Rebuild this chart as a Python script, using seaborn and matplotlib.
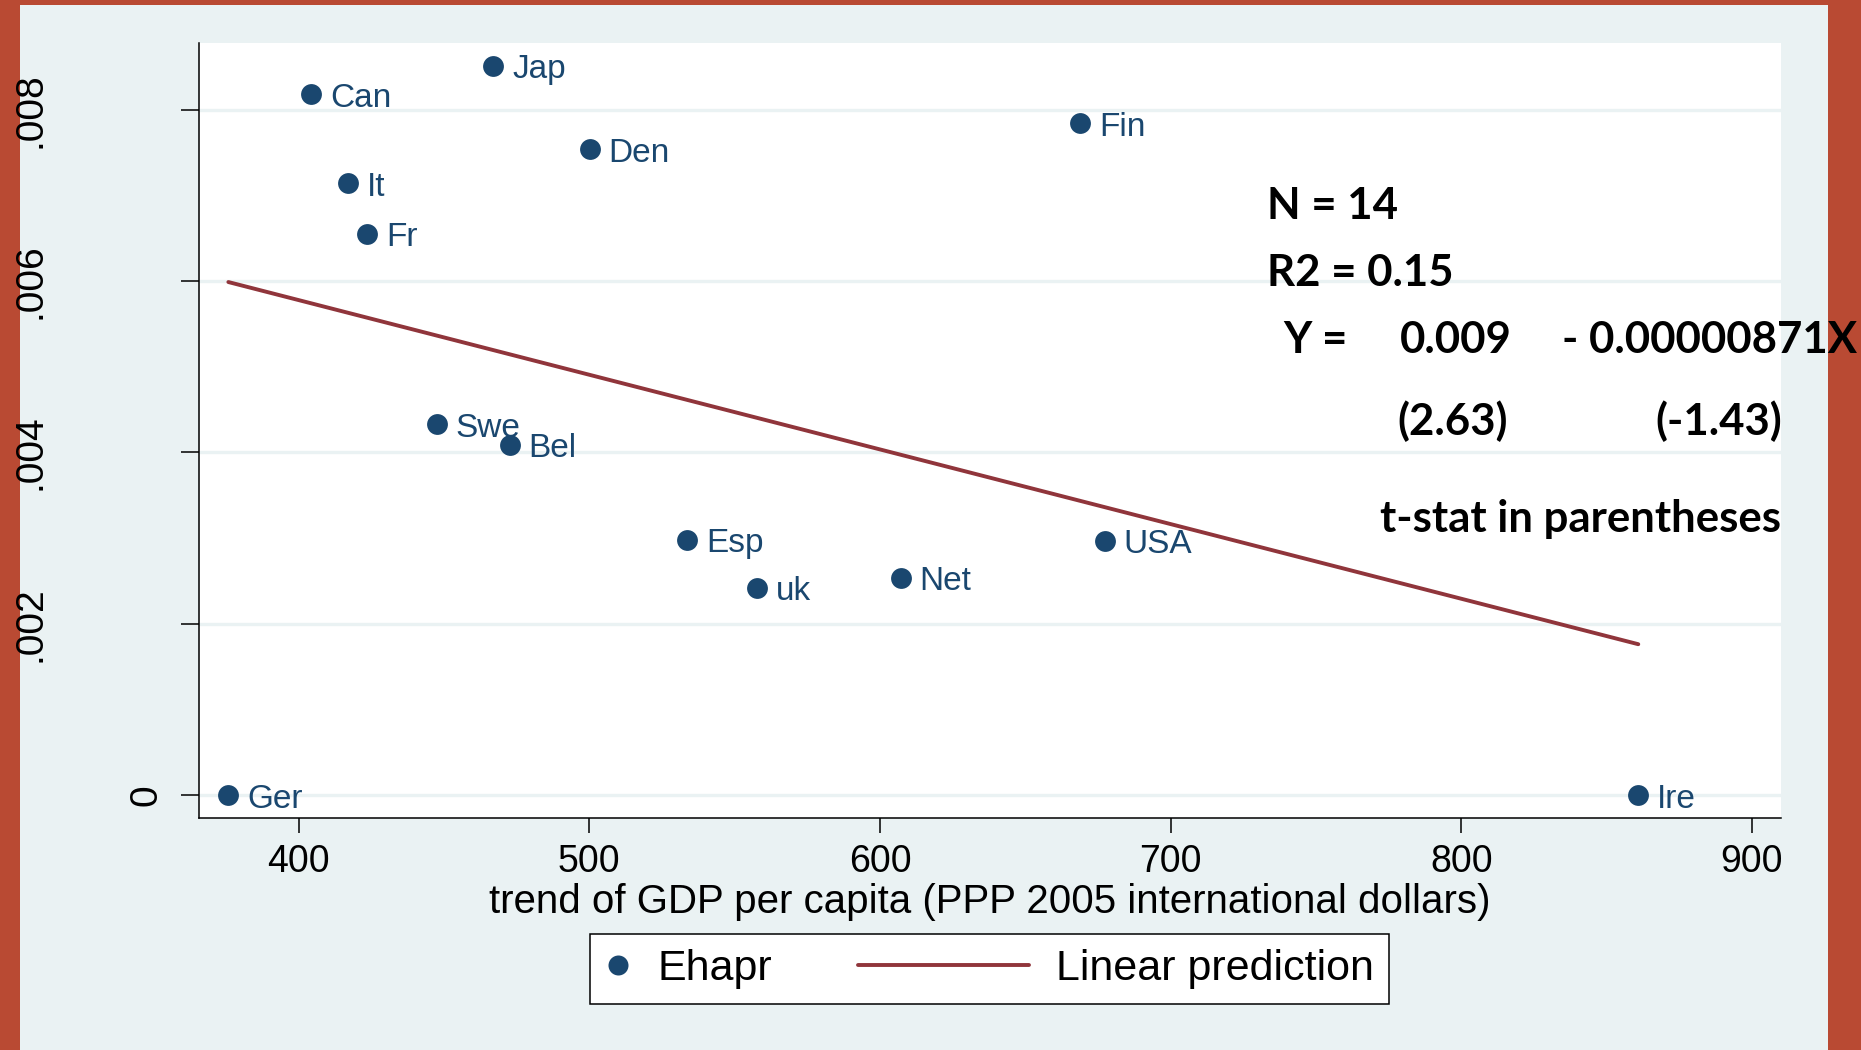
import numpy as np
import pandas as pd
import matplotlib
matplotlib.use("Agg")
import matplotlib.pyplot as plt
import matplotlib.transforms as mtransforms
from matplotlib.patches import Rectangle
from matplotlib.lines import Line2D
from matplotlib.legend_handler import HandlerLine2D
import seaborn as sns

# ---------------- data ----------------
countries = ["Ger", "Can", "It", "Fr", "Swe", "Jap", "Bel", "Den", "Esp", "uk", "Net", "Fin", "USA", "Ire"]
gdp_trend = [375.8, 404.4, 417.0, 423.6, 447.5, 467.0, 472.7, 500.2, 533.7, 557.6, 607.2, 668.9, 677.4, 860.9]
ehapr = [0.0, 0.00818, 0.00714, 0.00655, 0.00433, 0.00851, 0.00409, 0.00754,
         0.00298, 0.00242, 0.00254, 0.00784, 0.00297, 0.0]

x_ticks = [400, 500, 600, 700, 800, 900]
y_ticks = [0, 0.002, 0.004, 0.006, 0.008]
y_tick_labels = ["0", ".002", ".004", ".006", ".008"]

x_label = "trend of GDP per capita (PPP 2005 international dollars)"
legend_labels = ["Ehapr", "Linear prediction"]

annot_texts = ["N = 14", "R2 = 0.15", "Y =", "0.009", "- 0.00000871X",
               "(2.63)", "(-1.43)", "t-stat in parentheses"]

# ---------------- style ----------------
W, H = 1861, 1050
RED = "#b94a33"
LIGHT = "#eaf2f3"
NAVY = "#1a476f"
MAROON = "#90353b"

sns.set_theme(style="white")
plt.rcParams["font.family"] = ["Liberation Sans", "DejaVu Sans"]

df = pd.DataFrame({"country": countries, "gdp": gdp_trend, "ehapr": ehapr})

fig = plt.figure(figsize=(W / 100, H / 100), dpi=100, facecolor=RED)
fig.patches.append(Rectangle((20 / W, 0), (1828 - 20) / W, 1 - 5 / H,
                             transform=fig.transFigure, facecolor=LIGHT,
                             edgecolor="none", zorder=-10))

ax = fig.add_axes([199 / W, 1 - 818 / H, (1781 - 199) / W, (818 - 43) / H])
ax.set_facecolor("white")

sns.regplot(data=df, x="gdp", y="ehapr", ax=ax, scatter=False, ci=None,
            truncate=True, color=MAROON, line_kws=dict(lw=2.8, zorder=2))
sns.scatterplot(data=df, x="gdp", y="ehapr", ax=ax, s=225, color=NAVY,
                edgecolor=NAVY, linewidth=0, zorder=3, legend=False)

for name, xv, yv in zip(countries, gdp_trend, ehapr):
    ax.annotate(name, (xv, yv), xytext=(13.5, -9.0), textcoords="offset points",
                ha="left", va="baseline", fontsize=24, color=NAVY, zorder=4)

ax.set_xlim(365.7, 910.0)
ax.set_ylim(-0.000265, 0.008778)
ax.set_xticks(x_ticks)
ax.set_xticklabels([str(v) for v in x_ticks])
ax.set_yticks(y_ticks)
ax.set_axisbelow(True)
ax.yaxis.grid(True, color=LIGHT, lw=2.4)
ax.xaxis.grid(False)

for s in ["top", "right"]:
    ax.spines[s].set_visible(False)
for s in ["left", "bottom"]:
    ax.spines[s].set_color("black")
    ax.spines[s].set_linewidth(1.1)

ax.tick_params(axis="x", direction="out", length=11, width=1.1, color="black",
               labelsize=27, pad=8, labelcolor="black", bottom=True)
ax.tick_params(axis="y", direction="out", length=13, width=1.1, color="black",
               labelleft=False, left=True)

# y tick labels (Stata-style vertical labels)
blend = mtransforms.blended_transform_factory(fig.transFigure, ax.transData)
for val, lab in zip(y_ticks, y_tick_labels):
    xpix = 147 if lab == "0" else 30
    ax.text(xpix / W, val, lab, transform=blend, rotation=90, ha="center",
            va="center", fontsize=28, color="black", clip_on=False)

ax.set_ylabel("")
ax.set_xlabel(x_label, fontsize=29, color="black")
ax.xaxis.set_label_coords(0.5, (818 - 883) / 775)
ax.xaxis.label.set_va("top")


# ---------------- legend ----------------
class WidthHandler(HandlerLine2D):
    def __init__(self, width_pt, **kw):
        super().__init__(**kw)
        self.width_pt = width_pt

    def legend_artist(self, legend, orig_handle, fontsize, handlebox):
        handlebox.width = self.width_pt
        return super().legend_artist(legend, orig_handle, fontsize, handlebox)


h_marker = Line2D([], [], marker="o", ls="none", color=NAVY, markersize=14.4,
                  markeredgewidth=0)
h_line = Line2D([], [], color=MAROON, lw=2.8)
leg = fig.legend([h_marker, h_line], legend_labels, loc="center",
                 bbox_to_anchor=(989.5 / W, 1 - 969 / H),
                 bbox_transform=fig.transFigure, ncol=2, fontsize=31,
                 frameon=True, fancybox=False, framealpha=1, edgecolor="black",
                 facecolor="white", borderpad=0.35, handletextpad=0.62,
                 columnspacing=2.0, borderaxespad=0,
                 handler_map={h_marker: WidthHandler(26 * 0.72),
                              h_line: WidthHandler(171 * 0.72)})
leg.get_frame().set_linewidth(1.1)
for t in leg.get_texts():
    t.set_color("black")

# ---------------- annotations ----------------
annot_pos = [(1267, 219), (1267, 286), (1283, 353), (1400, 353), (1562, 353),
             (1397, 435), (1655, 435), (1380, 532)]
for txt, (px, py) in zip(annot_texts, annot_pos):
    fig.text(px / W, 1 - py / H, txt, ha="left", va="baseline", fontsize=31.5,
             fontweight="bold", family=["Lato", "DejaVu Sans"], color="black",
             zorder=20)

fig.savefig("out.png", dpi=100, facecolor=RED)
